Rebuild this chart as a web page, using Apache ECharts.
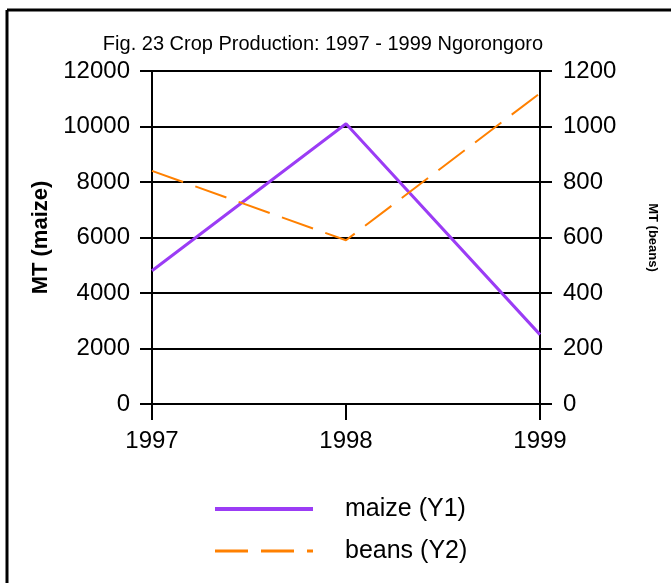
<!DOCTYPE html>
<html>
<head>
<meta charset="utf-8">
<script src="https://cdn.jsdelivr.net/npm/echarts@6/dist/echarts.min.js"></script>
<style>
  html, body { margin: 0; padding: 0; background: #fff; }
  #chart { width: 671px; height: 583px; }
</style>
</head>
<body>
<div id="chart"></div>
<script>
  // data
  var years = ['1997', '1998', '1999'];
  var maize = [4800, 10100, 2500];
  var beans = [840, 590, 1120];
  var leftTicks = [0, 12000, 2000];   // min, max, step
  var rightTicks = [0, 1200, 200];

  var font = 'Liberation Sans, Arial, sans-serif';
  var plain = function (v) { return String(v); };
  var chart = echarts.init(document.getElementById('chart'));

  chart.setOption({
    backgroundColor: '#fff',
    animation: false,
    title: {
      text: 'Fig. 23 Crop Production: 1997 - 1999 Ngorongoro',
      left: 318,
      textAlign: 'center',
      top: 29,
      textStyle: { fontFamily: font, fontSize: 20, fontWeight: 'normal', color: '#000' }
    },
    graphic: [
      // frame (only left and top edges visible)
      { type: 'line', shape: { x1: 7, y1: 10, x2: 7, y2: 583 }, style: { stroke: '#000', lineWidth: 3 } },
      { type: 'line', shape: { x1: 7, y1: 10, x2: 671, y2: 10 }, style: { stroke: '#000', lineWidth: 3 } }
    ],
    legend: {
      orient: 'vertical',
      left: 208,
      top: 490,
      itemWidth: 98,
      itemHeight: 14,
      itemGap: 14,
      itemStyle: { opacity: 0 },
      textStyle: { fontFamily: font, fontSize: 25, lineHeight: 28, color: '#000', padding: [0, 0, 0, 27] },
      data: [
        { name: 'maize (Y1)', lineStyle: { width: 4 } },
        { name: 'beans (Y2)', lineStyle: { width: 3 } }
      ]
    },
    grid: { left: 152, right: 131, top: 71, bottom: 179 },
    xAxis: {
      type: 'category',
      boundaryGap: false,
      data: years,
      axisLine: { lineStyle: { color: '#000', width: 2 } },
      axisTick: { length: 16, lineStyle: { color: '#000', width: 2 } },
      axisLabel: { fontFamily: font, fontSize: 24, color: '#000', margin: 25 }
    },
    yAxis: [
      {
        type: 'value',
        min: leftTicks[0], max: leftTicks[1], interval: leftTicks[2],
        name: 'MT (maize)',
        nameLocation: 'middle',
        nameRotate: 90,
        nameGap: 95,
        nameTextStyle: { fontFamily: font, fontSize: 22, fontWeight: 'bold', color: '#000' },
        axisLine: { show: true, lineStyle: { color: '#000', width: 2 } },
        axisTick: { show: true, length: 12, lineStyle: { color: '#000', width: 2 } },
        axisLabel: { fontFamily: font, fontSize: 24, color: '#000', margin: 22, formatter: plain },
        splitLine: { show: true, lineStyle: { color: '#000', width: 2 } }
      },
      {
        type: 'value',
        position: 'right',
        min: rightTicks[0], max: rightTicks[1], interval: rightTicks[2],
        name: 'MT (beans)',
        nameLocation: 'middle',
        nameRotate: -90,
        nameGap: 106,
        nameTextStyle: { fontFamily: font, fontSize: 13, fontWeight: 'bold', color: '#000' },
        axisLine: { show: true, lineStyle: { color: '#000', width: 2 } },
        axisTick: { show: true, length: 12, lineStyle: { color: '#000', width: 2 } },
        axisLabel: { fontFamily: font, fontSize: 24, color: '#000', margin: 23, formatter: plain },
        splitLine: { show: false }
      }
    ],
    series: [
      {
        name: 'maize (Y1)',
        type: 'line',
        yAxisIndex: 0,
        data: maize,
        symbol: 'none',
        color: '#9b3cf5',
        lineStyle: { color: '#9b3cf5', width: 3 }
      },
      {
        name: 'beans (Y2)',
        type: 'line',
        yAxisIndex: 1,
        data: beans,
        symbol: 'none',
        color: '#ff8000',
        lineStyle: { color: '#ff8000', width: 2, type: [33, 13] }
      }
    ]
  });
</script>
</body>
</html>
